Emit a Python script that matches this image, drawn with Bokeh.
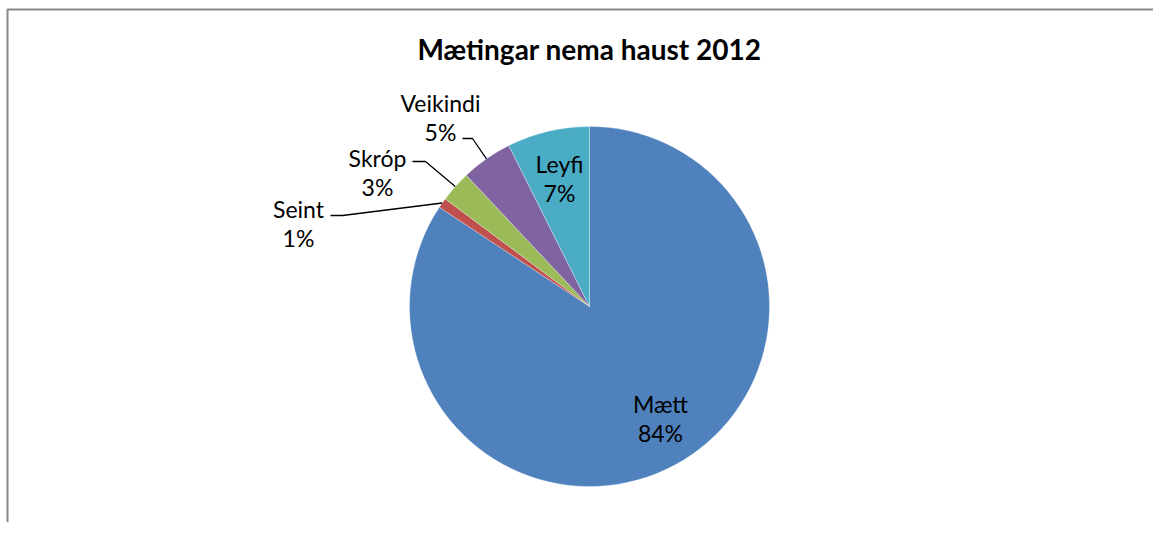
import math
from bokeh.plotting import figure
from bokeh.models import Range1d, ColumnDataSource
from bokeh.core.properties import value
from bokeh.embed import file_html
from bokeh.resources import INLINE

# ---- data ----
categories = ["Mætt", "Seint", "Skróp", "Veikindi", "Leyfi"]
values = [84.3, 0.9, 2.8, 4.6, 7.4]
colors = ["#4F81BD", "#C0504D", "#9BBB59", "#8064A2", "#4BACC6"]
title_text = "Mætingar nema haust 2012"

W, H = 1153, 522
FONT = "Lato"

def X(px):
    return px

def Y(py):
    return H - py

p = figure(width=W, height=H, output_backend="svg", toolbar_location=None,
           x_range=Range1d(0, W), y_range=Range1d(0, H), min_border=0)
p.axis.visible = False
p.grid.visible = False
p.outline_line_color = None
p.background_fill_color = "white"
p.border_fill_color = "white"

# chart-area border (cropped at right and bottom as in the reference)
p.line([X(7), X(7), W + 5], [-5, Y(9), Y(9)], line_color="#888888", line_width=2)

cx, cy, r = 589, 306, 180
total = sum(values)
fracs = [v / total for v in values]
starts, ends, mids = [], [], []
cum = 0.0
for f in fracs:
    starts.append(math.pi / 2 - 2 * math.pi * cum)
    ends.append(math.pi / 2 - 2 * math.pi * (cum + f))
    mids.append(math.pi / 2 - 2 * math.pi * (cum + f / 2))
    cum += f

src = ColumnDataSource(dict(x=[X(cx)] * len(values), y=[Y(cy)] * len(values),
                            start=starts, end=ends, color=colors))
p.wedge(x="x", y="y", radius=r, radius_units="screen", start_angle="start",
        end_angle="end", direction="clock", fill_color="color",
        line_color="white", line_width=0.5, line_alpha=0.6, source=src)

pct = [f"{round(v / total * 100)}%" for v in values]

# label positions (page pixels): (x center, y of first line)
inside = {0: (660, 403), 4: (559, 163)}
outside = {1: (298, 208, 330, 342, 215),
           2: (377, 157, 412, 425, 161),
           3: (440, 102, 462, 472, 138)}

def label(i, lx, ly):
    p.text([X(lx)], [Y(ly)], text=[categories[i]], text_align="center",
           text_baseline="middle", text_font=value(FONT), text_font_size="23px",
           text_color="black")
    p.text([X(lx)], [Y(ly + 29)], text=[pct[i]], text_align="center",
           text_baseline="middle", text_font=value(FONT), text_font_size="23px",
           text_color="black")

for i, (lx, ly) in inside.items():
    label(i, lx, ly)
for i, (lx, ly, x0, x1, yl) in outside.items():
    label(i, lx, ly)
    ex = cx + r * math.cos(mids[i])
    ey = cy - r * math.sin(mids[i])
    p.line([X(x0), X(x1), X(ex)], [Y(yl), Y(yl), Y(ey)], line_color="black", line_width=1.3)

p.text([X(589)], [Y(48)], text=[title_text], text_align="center",
       text_baseline="middle", text_font=value(FONT), text_font_size="28px",
       text_font_style="bold", text_color="black")

open("out.html", "w").write(file_html(p, INLINE))
